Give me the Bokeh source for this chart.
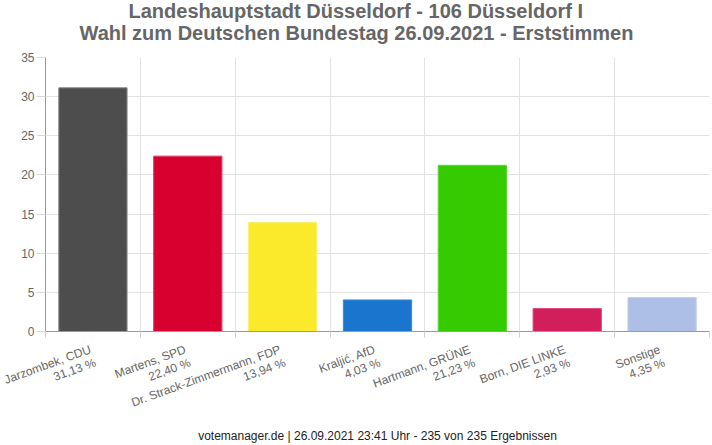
import math
from bokeh.plotting import figure
from bokeh.models import ColumnDataSource, FixedTicker, Range1d, Title
from bokeh.embed import file_html
from bokeh.resources import INLINE

candidates = ["Jarzombek, CDU", "Martens, SPD", "Dr. Strack-Zimmermann, FDP", "Kraljić, AfD",
              "Hartmann, GRÜNE", "Born, DIE LINKE", "Sonstige"]
shares = [31.13, 22.40, 13.94, 4.03, 21.23, 2.93, 4.35]
share_labels = ["31,13 %", "22,40 %", "13,94 %", "4,03 %", "21,23 %", "2,93 %", "4,35 %"]
fill_colors = ["#4d4d4d", "#d8002f", "#fbea2c", "#1a75cf", "#34cc00", "#d21e5b", "#adbfe6"]
line_colors = ["#8a8a8a", "#e04060", "#fcef70", "#3d88d6", "#5cd633", "#dc4a7b", "#c3d0ee"]
y_ticks = [0, 5, 10, 15, 20, 25, 30, 35]
title_lines = ["Landeshauptstadt Düsseldorf - 106 Düsseldorf I",
               "Wahl zum Deutschen Bundestag 26.09.2021  - Erststimmen"]
footer = "votemanager.de | 26.09.2021 23:41 Uhr - 235 von 235 Ergebnissen"

FONT = "Liberation Sans"
GREY = "#666666"

n = len(candidates)
xs = [i + 0.5 for i in range(n)]
src = ColumnDataSource(dict(x=xs, top=shares, fill=fill_colors, line=line_colors))

p = figure(width=712, height=445, output_backend="svg", toolbar_location=None, title=None,
           x_range=Range1d(0, n), y_range=Range1d(0, 35),
           min_border_left=45, min_border_right=3, min_border_top=57, min_border_bottom=113)
p.outline_line_color = None

p.vbar(x="x", top="top", width=0.72, bottom=0, source=src,
       fill_color="fill", line_color="line", line_width=1)

# x axis: labels at category centres, small ticks at category boundaries
p.xaxis.ticker = FixedTicker(ticks=xs, minor_ticks=list(range(n + 1)))
p.xaxis.major_label_overrides = {x: f"{c}\n{s}" for x, c, s in zip(xs, candidates, share_labels)}
p.xaxis.major_label_orientation = math.radians(20)
p.xaxis.major_label_text_font = FONT
p.xaxis.major_label_text_font_size = "12px"
p.xaxis.major_label_text_line_height = 1.0
p.xaxis.major_label_text_color = GREY
p.xaxis.major_label_standoff = 18
p.xaxis.major_tick_line_color = None
p.xaxis.major_tick_out = 0
p.xaxis.major_tick_in = 0
p.xaxis.minor_tick_out = 6
p.xaxis.minor_tick_in = 0
p.xaxis.minor_tick_line_color = "#d0d0d0"
p.xaxis.axis_line_color = "#9a9a9a"
# footer line as the x axis label
p.xaxis.axis_label = footer
p.xaxis.axis_label_standoff = -10
p.xaxis.axis_label_text_font = FONT
p.xaxis.axis_label_text_font_size = "12px"
p.xaxis.axis_label_text_font_style = "normal"
p.xaxis.axis_label_text_color = "#222222"

p.yaxis.ticker = FixedTicker(ticks=y_ticks)
p.yaxis.major_tick_out = 9
p.yaxis.major_tick_in = 0
p.yaxis.minor_tick_line_color = None
p.yaxis.axis_line_color = "#9a9a9a"
p.yaxis.major_tick_line_color = "#d9d9d9"
p.yaxis.major_label_text_font = FONT
p.yaxis.major_label_text_font_size = "12px"
p.yaxis.major_label_text_color = GREY
p.yaxis.major_label_standoff = 2

p.xgrid.ticker = FixedTicker(ticks=list(range(n + 1)))
p.xgrid.grid_line_color = "#e2e2e2"
p.ygrid.ticker = FixedTicker(ticks=y_ticks)
p.ygrid.grid_line_color = "#e2e2e2"

# two-line title, centred on the whole picture (first added sits nearest the frame)
p.add_layout(Title(text=title_lines[1], align="left", text_font=FONT, text_font_size="20px",
                   text_font_style="bold", text_color=GREY, standoff=27, offset=34), "above")
p.add_layout(Title(text=title_lines[0], align="left", text_font=FONT, text_font_size="20px",
                   text_font_style="bold", text_color=GREY, standoff=-30, offset=83), "above")

open("out.html", "w").write(file_html(p, INLINE))
